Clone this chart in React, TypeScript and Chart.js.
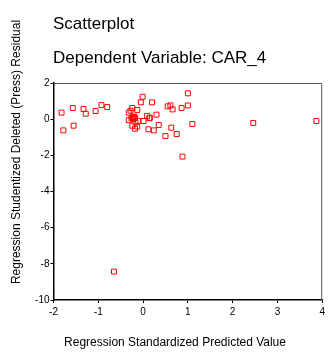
import React, { useEffect, useRef } from "react";
import { Chart, registerables } from "chart.js";

Chart.register(...registerables);

const chartTitle = "Scatterplot";
const chartSubtitle = "Dependent Variable: CAR_4";
const xAxisTitle = "Regression Standardized Predicted Value";
const yAxisTitle = "Regression Studentized Deleted (Press) Residual";

const xTicks = [-2, -1, 0, 1, 2, 3, 4];
const yTicks = [-10, -8, -6, -4, -2, 0, 2];

const xValues = [
  -1.82, -1.78, -1.57, -1.55, -1.33, -1.28, -1.06, -0.93, -0.8, -0.65,
  -0.32, -0.28, -0.24, -0.13, -0.32, -0.24, -0.2, -0.22, -0.18, -0.24,
  -0.18, -0.13, -0.17, -0.11, -0.05, -0.01, 0.01, 0.09, 0.14, 0.12,
  0.2, 0.24, 0.3, 0.35, 0.5, 0.55, 0.61, 0.66, 0.63, 0.75,
  0.86, 0.88, 1.0, 1.0, 1.1, 2.46, 3.87, -0.22, -0.26, 0.15,
];
const yValues = [
  0.36, -0.62, 0.62, -0.36, 0.56, 0.3, 0.45, 0.78, 0.67, -8.43,
  0.36, 0.47, 0.62, 0.51, -0.06, 0.1, 0.14, 0.01, 0.08, -0.36,
  -0.53, -0.41, -0.19, -0.1, 0.93, 1.24, -0.1, 0.18, 0.05, -0.56,
  0.93, -0.62, 0.25, -0.32, -0.93, 0.71, 0.76, 0.54, -0.47, -0.82,
  0.62, -2.07, 1.43, 0.76, -0.27, -0.21, -0.1, 0.12, 0.05, 0.08,
];

const FONT = "'Liberation Sans', Arial, Helvetica, sans-serif";

export default function App() {
  const ref = useRef<HTMLCanvasElement | null>(null);

  useEffect(() => {
    document.body.style.margin = "0";
    const canvas = ref.current;
    if (!canvas) return;

    const textPlugin = {
      id: "spssText",
      afterDraw(chart: any) {
        const ctx = chart.ctx as CanvasRenderingContext2D;
        const a = chart.chartArea;
        ctx.save();
        // frame top/right
        ctx.strokeStyle = "#555";
        ctx.lineWidth = 1;
        ctx.beginPath();
        ctx.moveTo(a.left, a.top + 0.5);
        ctx.lineTo(a.right - 0.5, a.top + 0.5);
        ctx.lineTo(a.right - 0.5, a.bottom);
        ctx.stroke();

        ctx.fillStyle = "#000";
        ctx.textAlign = "left";
        ctx.textBaseline = "alphabetic";
        ctx.font = `17px ${FONT}`;
        ctx.fillText(chartTitle, 53, 29);
        ctx.fillText(chartSubtitle, 53, 63);

        ctx.font = `12px ${FONT}`;
        ctx.textAlign = "center";
        ctx.textBaseline = "middle";
        ctx.fillText(xAxisTitle, 175, 343);

        ctx.translate(17, 152);
        ctx.rotate(-Math.PI / 2);
        ctx.fillText(yAxisTitle, 0, 0);
        ctx.restore();
      },
    };

    const chart = new Chart(canvas, {
      type: "scatter",
      data: {
        datasets: [
          {
            data: xValues.map((x, i) => ({ x, y: yValues[i] })),
            pointStyle: "rect",
            pointRadius: 3.5,
            pointHoverRadius: 3.5,
            borderColor: "#ff0000",
            backgroundColor: "rgba(0,0,0,0)",
            borderWidth: 1,
          },
        ],
      },
      options: {
        responsive: false,
        animation: false,
        layout: { padding: { top: 83, right: 4, bottom: 0, left: 0 } },
        plugins: {
          legend: { display: false },
          tooltip: { enabled: false },
          title: { display: false },
        },
        scales: {
          x: {
            type: "linear",
            min: xTicks[0],
            max: xTicks[xTicks.length - 1],
            afterBuildTicks: (scale: any) => {
              scale.ticks = xTicks.map((v) => ({ value: v }));
            },
            afterFit: (scale: any) => {
              scale.height = 58;
            },
            grid: {
              drawOnChartArea: false,
              drawTicks: true,
              tickLength: 3,
              color: "#000",
            },
            border: { display: true, color: "#000", width: 1.5 },
            ticks: {
              color: "#000",
              font: { family: FONT, size: 10 },
              padding: 3,
              maxRotation: 0,
            },
          },
          y: {
            type: "linear",
            min: yTicks[0],
            max: yTicks[yTicks.length - 1],
            afterBuildTicks: (scale: any) => {
              scale.ticks = yTicks.map((v) => ({ value: v }));
            },
            afterFit: (scale: any) => {
              scale.width = 53.5;
            },
            grid: {
              drawOnChartArea: false,
              drawTicks: true,
              tickLength: 3,
              color: "#000",
            },
            border: { display: true, color: "#000", width: 1.5 },
            ticks: {
              color: "#000",
              font: { family: FONT, size: 10 },
              padding: 1,
            },
          },
        },
      },
      plugins: [textPlugin],
    } as any);

    return () => chart.destroy();
  }, []);

  return (
    <div style={{ width: 328, height: 358 }}>
      <canvas ref={ref} width={328} height={358} style={{ display: "block" }} />
    </div>
  );
}
